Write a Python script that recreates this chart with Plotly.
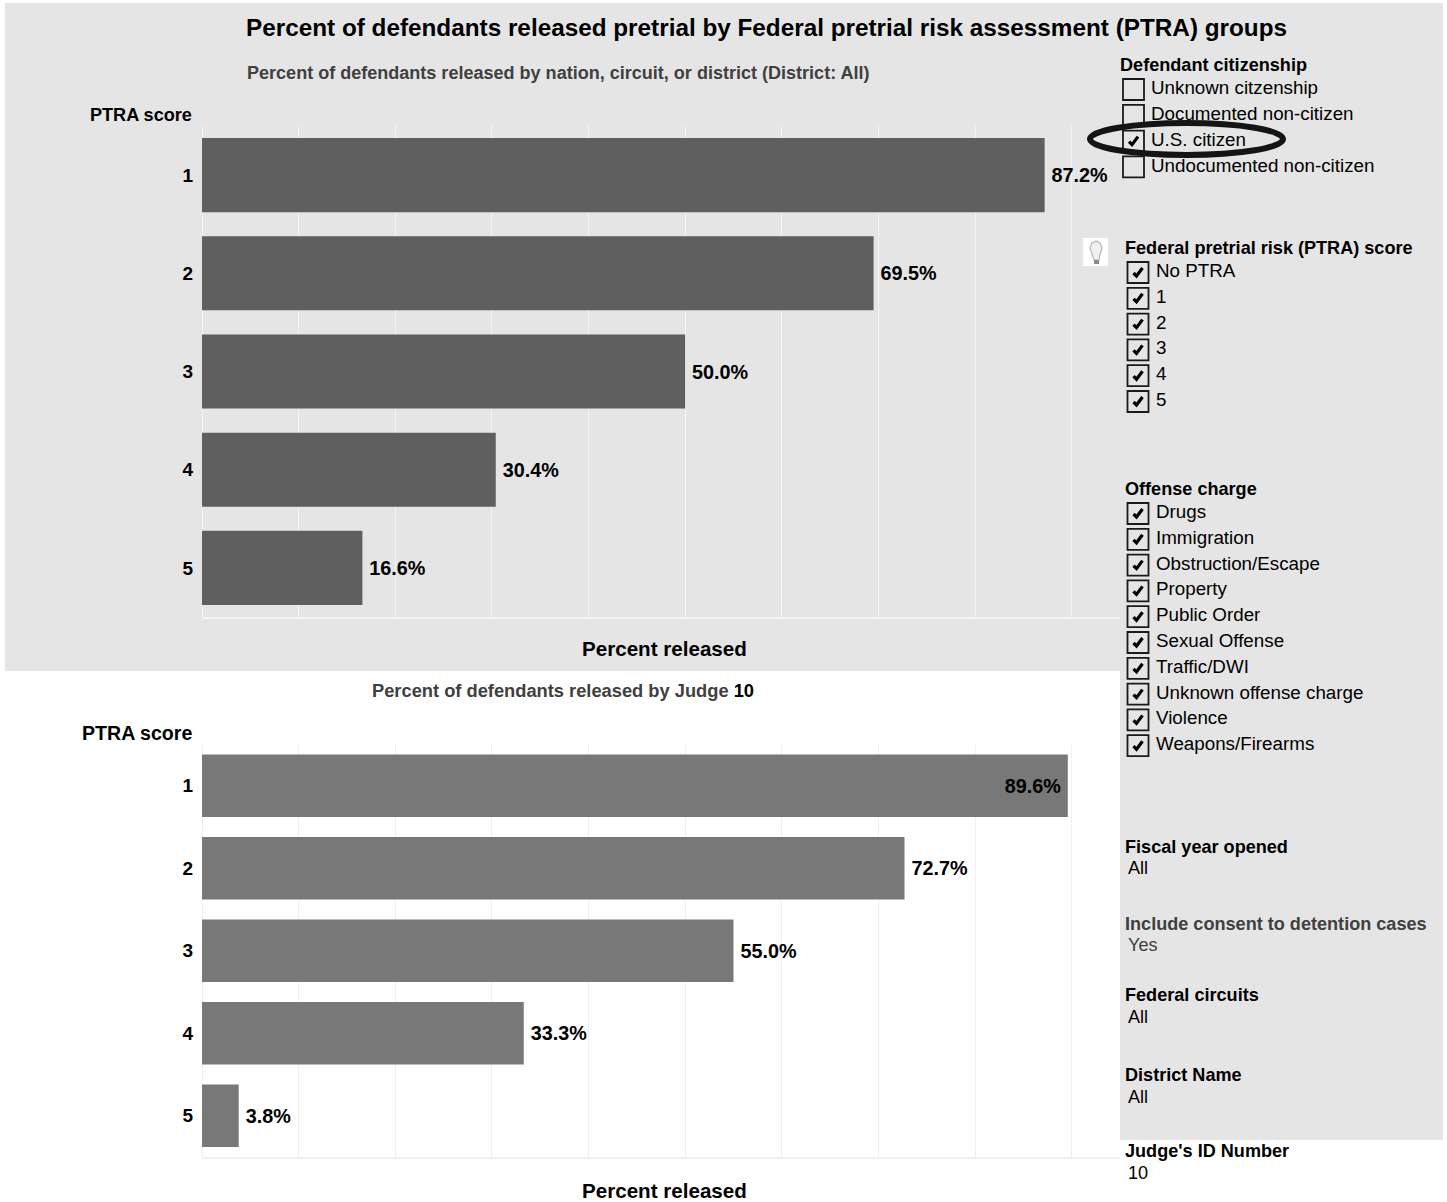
import plotly.graph_objects as go

W, H = 1447, 1202

# Chart values
ptra_scores = ["1", "2", "3", "4", "5"]
district_released = [87.2, 69.5, 50.0, 30.4, 16.6]
judge_released = [89.6, 72.7, 55.0, 33.3, 3.8]

# Filter panel contents
citizenship_options = ["Unknown citzenship", "Documented non-citizen", "U.S. citizen", "Undocumented non-citizen"]
citizenship_checked = [False, False, True, False]
ptra_options = ["No PTRA", "1", "2", "3", "4", "5"]
offense_options = ["Drugs", "Immigration", "Obstruction/Escape", "Property", "Public Order",
                   "Sexual Offense", "Traffic/DWI", "Unknown offense charge", "Violence", "Weapons/Firearms"]

FONT = "Liberation Sans"
PANEL = "#e5e5e5"


def px(x):
    return x / W


def py(y):
    return 1 - y / H


def label(x, y, text, size=18.1, bold=False, color="#000000", anchor="left"):
    shown = f"<b>{text}</b>" if bold else text
    # Annotations carry a small internal pad, offset here so x is the text edge
    nudge = {"left": -2, "right": 2, "center": 0}[anchor]
    return dict(x=px(x + nudge), y=py(y - 0.2), xref="paper", yref="paper", text=shown, showarrow=False,
                xanchor=anchor, yanchor="middle", font=dict(family=FONT, size=size, color=color))


def box(x0, y0, x1, y1, **kw):
    return dict(type="rect", xref="paper", yref="paper", x0=px(x0), x1=px(x1), y0=py(y0), y1=py(y1), **kw)


def path(points, **kw):
    d = "M " + " L ".join(f"{px(x):.5f} {py(y):.5f}" for x, y in points)
    return dict(type="path", xref="paper", yref="paper", path=d, **kw)


shapes = [
    box(5, 3, 1443, 671, fillcolor=PANEL, line_width=0, layer="below"),
    box(1120, 671, 1443, 1140, fillcolor=PANEL, line_width=0, layer="below"),
]
annotations = []


def checklist(x, y0, options, checked):
    for i, (name, on) in enumerate(zip(options, checked)):
        y = y0 + i * 25.8
        shapes.append(box(x, y - 10, x + 21, y + 11, line=dict(color="#1a1a1a", width=1.8),
                          fillcolor="rgba(0,0,0,0)", layer="above"))
        if on:
            shapes.append(path([(x + 6, y + 1), (x + 9, y + 4), (x + 15, y - 4)],
                               line=dict(color="#000000", width=3.2), layer="above"))
        annotations.append(label(x + 28, y - 1.2, name, size=18.8))


annotations += [
    label(766.5, 28, "Percent of defendants released pretrial by Federal pretrial risk assessment (PTRA) groups",
          size=24.3, bold=True, anchor="center"),
    label(247, 73, "Percent of defendants released by nation, circuit, or district (District: All)",
          size=18.05, bold=True, color="#404040"),
    label(192, 115, "PTRA score", bold=True, anchor="right"),
    label(664, 649, "Percent released", size=20.6, bold=True, anchor="center"),
    label(372, 691, "Percent of defendants released by Judge <span style='color:#000'>10</span>",
          size=18.3, bold=True, color="#404040"),
    label(192, 733, "PTRA score", size=19.6, bold=True, anchor="right"),
    label(664, 1191, "Percent released", size=20.6, bold=True, anchor="center"),
    label(1120, 65, "Defendant citizenship", bold=True),
    label(1125, 248, "Federal pretrial risk (PTRA) score", bold=True),
    label(1125, 489, "Offense charge", bold=True),
    label(1125, 847, "Fiscal year opened", bold=True),
    label(1128, 868, "All"),
    label(1125, 924, "Include consent to detention cases", bold=True, color="#404040"),
    label(1128, 945, "Yes", color="#404040"),
    label(1125, 995, "Federal circuits", bold=True),
    label(1128, 1017, "All"),
    label(1125, 1075, "District Name", bold=True),
    label(1128, 1097, "All"),
    label(1125, 1151, "Judge's ID Number", bold=True),
    label(1128, 1173, "10"),
]

checklist(1123, 89, citizenship_options, citizenship_checked)
checklist(1127.5, 272, ptra_options, [True] * len(ptra_options))
checklist(1127.5, 513, offense_options, [True] * len(offense_options))

# Emphasis ring around the U.S. citizen filter
shapes.append(dict(type="circle", xref="paper", yref="paper", x0=px(1090), x1=px(1283),
                   y0=py(123), y1=py(155), line=dict(color="#141414", width=6), layer="above"))

# Small light-bulb help icon
shapes.append(box(1083, 238, 1108, 266, fillcolor="#ffffff", line_width=0, layer="above"))
shapes.append(path([(1092, 254), (1090, 248), (1092, 243), (1096, 241), (1100, 243), (1102, 248),
                    (1100, 254), (1099, 260), (1094, 260), (1092, 254)],
                   line=dict(color="#b5b5b5", width=1.2), fillcolor="#f0f0f0", layer="above"))
shapes.append(box(1094, 260, 1099, 264, fillcolor="#8a8a8a", line_width=0, layer="above"))

fig = go.Figure()


def bars(values, color, xaxis, yaxis, inside=()):
    # Thin spaces keep the value labels a few pixels clear of the bar end
    fig.add_trace(go.Bar(
        x=values, y=ptra_scores, orientation="h", marker=dict(color=color, line_width=0),
        width=0.755,
        texttemplate=["%{x:.1f}%\u2009" if i in inside else "\u2009%{x:.1f}%" for i in range(len(values))],
        textposition=["inside" if i in inside else "outside" for i in range(len(values))],
        insidetextanchor="end", constraintext="none", cliponaxis=False,
        textangle=0,
        textfont=dict(family=FONT, size=19.8, color="#000000", weight="bold"),
        xaxis=xaxis, yaxis=yaxis, showlegend=False, hoverinfo="skip"))


bars(district_released, "#5f5f5f", "x", "y")
bars(judge_released, "#787878", "x2", "y2", inside=(0,))

x_common = dict(range=[0, 95], dtick=10, tick0=0, showticklabels=False, ticks="",
                domain=[px(202), px(1120)], showline=True)
y_common = dict(range=[4.5, -0.5], type="category", categoryorder="array", categoryarray=ptra_scores,
                showgrid=False, ticks="", ticklabelstandoff=8, showline=False, zeroline=False,
                tickfont=dict(family=FONT, size=19, color="#000000", weight="bold"))

fig.update_layout(
    width=W, height=H, margin=dict(l=0, r=0, t=0, b=0), autosize=False,
    paper_bgcolor="#ffffff", plot_bgcolor="rgba(0,0,0,0)", bargap=0.245,
    shapes=shapes, annotations=annotations,
    xaxis=dict(**x_common, anchor="y", gridcolor="#f4f4f4", gridwidth=1.3, zeroline=True, zerolinecolor="#f4f4f4",
               zerolinewidth=1.3, linecolor="#f4f4f4", linewidth=2),
    yaxis=dict(**y_common, anchor="x", domain=[py(617), py(126)]),
    xaxis2=dict(**x_common, anchor="y2", gridcolor="#f0f0f0", gridwidth=1.3, zeroline=True, zerolinecolor="#f0f0f0",
                zerolinewidth=1.3, linecolor="#f0f0f0", linewidth=1.5),
    yaxis2=dict(**y_common, anchor="x2", domain=[py(1157), py(744.5)]),
)

fig.write_html("out.html")
